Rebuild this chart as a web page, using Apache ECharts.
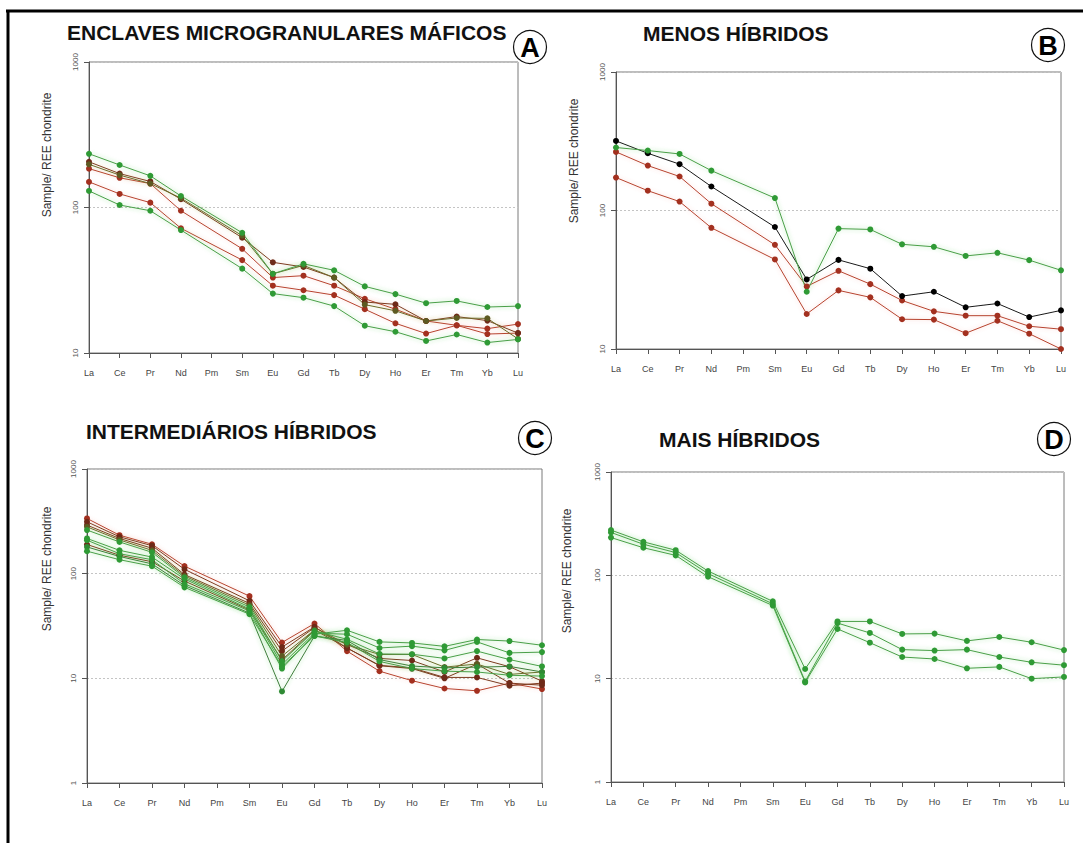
<!DOCTYPE html>
<html>
<head>
<meta charset="utf-8">
<script src="https://cdn.jsdelivr.net/npm/echarts@6/dist/echarts.min.js"></script>
<style>
  html, body { margin: 0; padding: 0; background: #ffffff; }
  #chart { width: 1083px; height: 843px; }
</style>
</head>
<body>
<div id="chart"></div>
<script>
// Rare earth elements, chondrite-normalised (Pm not analysed)
const elements = ['La','Ce','Pr','Nd','Pm','Sm','Eu','Gd','Tb','Dy','Ho','Er','Tm','Yb','Lu'];
const decadeTicks = [1, 10, 100, 1000];

// A - Enclaves microgranulares máficos
const enclaveGreenHigh = [234,196,165,120,null,67,35,41,37,28.7,25.4,22,22.8,20.7,21];
const enclaveBrown     = [206,171,151,114,null,62,42,39,33,22.4,21.6,16.6,17.8,16.7,13.7];
const enclaveOlive     = [198,167,146,116,null,64,35,40,33,21.5,19.5,16.6,17.4,17.3,12.5];
const enclaveRedMid    = [185,160,146,95,null,52,33,34,29,23.6,20,16.6,15.5,14.7,15.8];
const enclaveRedLow    = [150,124,108,72,null,43.5,29,27,25,20,16,13.6,15.5,13.5,13.7];
const enclaveGreenLow  = [130,104,95,70,null,38,25.6,24,21,15.4,14,12.1,13.4,11.8,12.4];

// B - Menos híbridos
const lessHybridBlack   = [318,259,216,149,null,76,31.8,44,38,24.1,25.9,20,21.3,17,19];
const lessHybridGreen   = [285,271,256,194,null,123,25.9,74,73,57,54.7,47,49.5,43.8,37];
const lessHybridRedHigh = [265,211,176,112,null,56.5,28.3,36.7,29.4,22.4,18.7,17.4,17.4,14.6,13.9];
const lessHybridRedLow  = [173,139,116,75,null,44.3,17.9,26.5,23.6,16.4,16.3,13,16,12.9,10];

// C - Intermediários híbridos
const midHybridRed      = [337,233,191,118,null,61,22,33.4,18.2,11.7,9.5,8.0,7.6,9.0,7.9];
const midHybridBrownRed = [313,225,185,110,null,55,19.9,31,19.5,13.3,12.6,10.2,10.2,8.5,9.0];
const midHybridBrown    = [291,217,175,98,null,52,18.2,30.6,21.1,15.5,14.8,11.5,15.7,12.9,9.4];
const midHybridOlive    = [280,210,167,95,null,50,16.3,29,21,16.9,16.9,12.8,13.7,10.9,11.5];
const midHybridGreenA   = [261,201,160,92,null,48,14.6,28.4,23.6,17.1,17,15.5,18.2,15.1,13.0];
const midHybridGreenB   = [217,167,144,89,null,46,13.6,27,26.4,19.5,20.3,18.5,22.3,17.5,17.8];
const midHybridGreenC   = [209,155,136,80,null,44,12.4,26.4,28.8,22.3,21.8,20.2,23.5,22.7,20.7];
const midHybridDarkGrn  = [180,146,124,77,null,42,7.5,25.4,23,15.1,13.1,12.6,12.8,13.0,11.5];
const midHybridGreenD   = [164,136,118,74,null,41,13,25.4,22,14.5,12.4,11.7,11.5,10.7,10.5];
const midHybridBrownLow = [190,150,130,85,null,45,15,29,19.5,13.2,12.4,10.0,13.7,9.0,8.6];

// D - Mais híbridos
const moreHybridHigh = [274,211,175,110,null,56,12.4,35.8,35.8,27.1,27.3,23.2,25.3,22.5,18.9];
const moreHybridMid  = [260,200,166,104,null,53,9.4,34.5,27.7,19.1,18.7,19.1,16.2,14.4,13.5];
const moreHybridLow  = [232,185,156,97,null,51,9.2,30.3,22.3,16.2,15.5,12.6,13.0,10.0,10.4];

const panelTitles = ['ENCLAVES MICROGRANULARES MÁFICOS', 'MENOS HÍBRIDOS', 'INTERMEDIÁRIOS HÍBRIDOS', 'MAIS HÍBRIDOS'];
const panelLetters = ['A', 'B', 'C', 'D'];
const yAxisTitle = 'Sample/ REE chondrite';

// ---- styling ----
const FONT = '"Liberation Sans", Arial, Helvetica, sans-serif';
const palette = {
  green:    { line: '#4a9f48', dot: '#2f9a35', halo: 'rgba(60,200,60,0.5)' },
  darkGrn:  { line: '#3f7d3c', dot: '#2f8a34', halo: 'rgba(60,200,60,0.45)' },
  olive:    { line: '#6e6a2a', dot: '#5d5a22', halo: 'rgba(150,190,60,0.4)' },
  brown:    { line: '#7d3a1e', dot: '#6e2a18', halo: 'rgba(200,120,80,0.3)' },
  red:      { line: '#b7432f', dot: '#a3301f', halo: 'rgba(230,100,90,0.35)' },
  black:    { line: '#1a1a1a', dot: '#000000', halo: 'rgba(0,0,0,0)' }
};

const grids = [
  { left: 89,  top: 62,  width: 429, height: 291, min: 10 },
  { left: 616, top: 72,  width: 445, height: 277, min: 10 },
  { left: 87,  top: 469, width: 455, height: 314, min: 1 },
  { left: 611, top: 472, width: 453, height: 310, min: 1 }
];

function sample(panel, values, tone) {
  const c = palette[tone];
  return {
    type: 'line', xAxisIndex: panel, yAxisIndex: panel,
    data: values, connectNulls: true,
    symbol: 'circle', symbolSize: 6,
    lineStyle: { color: c.line, width: 1, shadowBlur: 4, shadowColor: c.halo },
    itemStyle: { color: c.dot },
    emphasis: { disabled: true }, silent: true, animation: false
  };
}

const series = [
  sample(0, enclaveRedMid, 'red'),
  sample(0, enclaveRedLow, 'red'),
  sample(0, enclaveBrown, 'brown'),
  sample(0, enclaveOlive, 'olive'),
  sample(0, enclaveGreenHigh, 'green'),
  sample(0, enclaveGreenLow, 'green'),

  sample(1, lessHybridRedHigh, 'red'),
  sample(1, lessHybridRedLow, 'red'),
  sample(1, lessHybridBlack, 'black'),
  sample(1, lessHybridGreen, 'green'),

  sample(2, midHybridRed, 'red'),
  sample(2, midHybridBrownRed, 'brown'),
  sample(2, midHybridBrown, 'brown'),
  sample(2, midHybridBrownLow, 'brown'),
  sample(2, midHybridOlive, 'olive'),
  sample(2, midHybridDarkGrn, 'darkGrn'),
  sample(2, midHybridGreenD, 'green'),
  sample(2, midHybridGreenA, 'green'),
  sample(2, midHybridGreenB, 'green'),
  sample(2, midHybridGreenC, 'green'),

  sample(3, moreHybridLow, 'green'),
  sample(3, moreHybridMid, 'green'),
  sample(3, moreHybridHigh, 'green')
];

const gridOpts = grids.map(g => ({
  left: g.left, top: g.top, width: g.width, height: g.height,
  show: true, borderColor: '#7a7a7a', borderWidth: 1, backgroundColor: 'transparent'
}));

const xAxes = grids.map((g, i) => ({
  gridIndex: i, type: 'category', data: elements, boundaryGap: false,
  axisLine: { show: true, lineStyle: { color: '#555', width: 1 } },
  axisTick: { show: true, length: 5, lineStyle: { color: '#555' } },
  axisLabel: { interval: 0, fontSize: 9, color: '#444', margin: 15, fontFamily: FONT },
  splitLine: { show: false }
}));

const yAxes = grids.map((g, i) => ({
  gridIndex: i, type: 'log', logBase: 10, min: g.min, max: 1000,
  axisLine: { show: true, lineStyle: { color: '#555', width: 1 } },
  axisTick: { show: true, length: 5, lineStyle: { color: '#555' } },
  minorTick: { show: false },
  axisLabel: {
    rotate: 90, fontSize: 8, color: '#555', margin: 10, fontFamily: FONT,
    formatter: v => String(decadeTicks.find(t => Math.abs(t - v) / t < 1e-6) || Math.round(v))
  },
  splitLine: { show: true, lineStyle: { type: [2, 2], color: '#c4c4c4', width: 1 } }
}));

// Panel headings, letter badges and y-axis titles
const titlePos = [ [67, 32], [643, 33], [86, 431], [659, 439] ];
const badgePos = [ [530, 47], [1048, 45], [535, 438], [1054, 439] ];
const yTitlePos = [ [47, 155], [574, 161], [47, 569], [567, 571] ];

const graphics = [];
panelTitles.forEach((t, i) => {
  graphics.push({
    type: 'text', x: titlePos[i][0], y: titlePos[i][1], silent: true,
    style: { text: t, font: 'bold 21px ' + FONT, fill: '#111',
             align: 'left', verticalAlign: 'middle', textAlign: 'left', textVerticalAlign: 'middle' }
  });
});
panelLetters.forEach((l, i) => {
  graphics.push({
    type: 'circle', silent: true,
    shape: { cx: badgePos[i][0], cy: badgePos[i][1], r: 16.5 },
    style: { fill: '#fff', stroke: '#111', lineWidth: 1.2 }
  });
  graphics.push({
    type: 'text', x: badgePos[i][0], y: badgePos[i][1] + 1, silent: true,
    style: { text: l, font: 'bold 27px ' + FONT, fill: '#000',
             align: 'center', verticalAlign: 'middle', textAlign: 'center', textVerticalAlign: 'middle' }
  });
});
yTitlePos.forEach(p => {
  graphics.push({
    type: 'text', x: p[0], y: p[1], rotation: Math.PI / 2, silent: true,
    style: { text: yAxisTitle, font: '12px ' + FONT, fill: '#333',
             align: 'center', verticalAlign: 'middle', textAlign: 'center', textVerticalAlign: 'middle' }
  });
});
// figure frame (top and left edges)
graphics.push({ type: 'line', silent: true, shape: { x1: 6, y1: 11, x2: 1083, y2: 11 }, style: { stroke: '#000', lineWidth: 3 } });
graphics.push({ type: 'line', silent: true, shape: { x1: 8, y1: 10, x2: 8, y2: 843 }, style: { stroke: '#000', lineWidth: 3 } });

const chart = echarts.init(document.getElementById('chart'), null, { renderer: 'svg' });
chart.setOption({
  backgroundColor: '#ffffff',
  animation: false,
  textStyle: { fontFamily: FONT },
  grid: gridOpts,
  xAxis: xAxes,
  yAxis: yAxes,
  series: series,
  graphic: graphics
});
</script>
</body>
</html>
